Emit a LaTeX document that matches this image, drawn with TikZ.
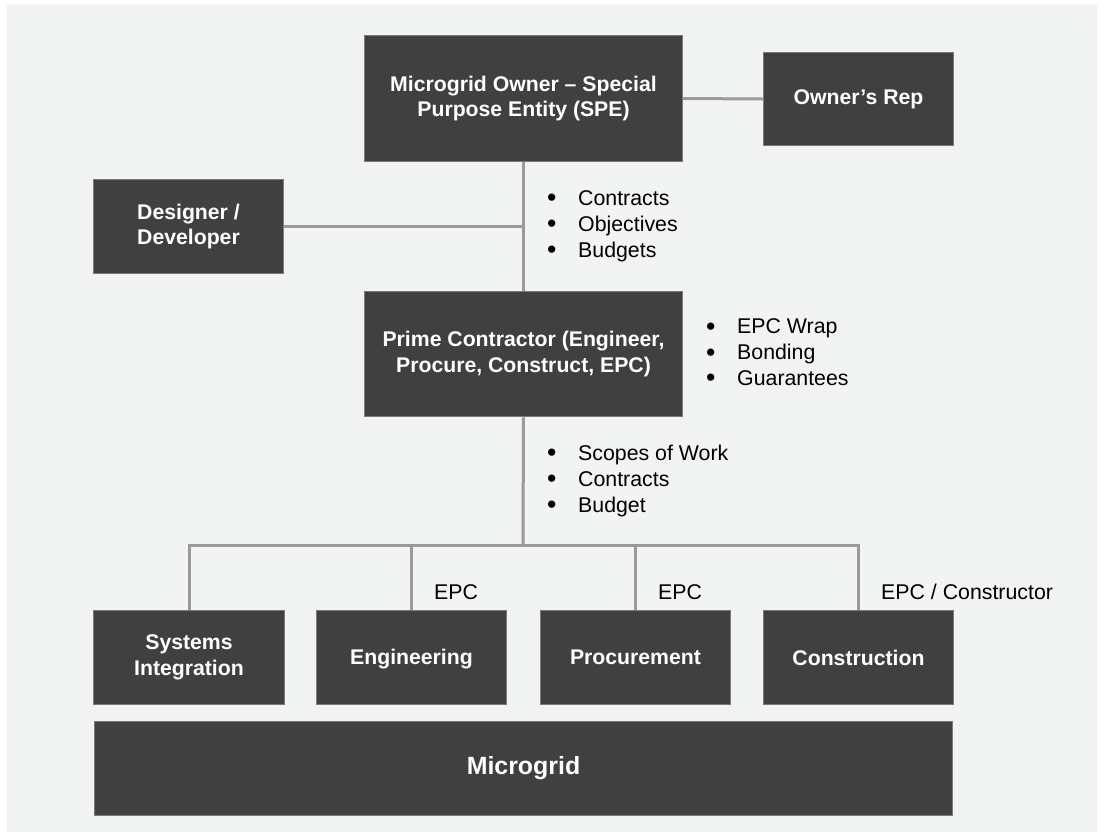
\documentclass[tikz,border=0pt]{standalone}
\usepackage{fontspec}
\setmainfont{Liberation Sans}
\definecolor{boxfill}{HTML}{404040}
\definecolor{boxline}{HTML}{7A7A7A}
\definecolor{linegray}{HTML}{9A9A9A}
\definecolor{panel}{HTML}{F2F3F3}
\begin{document}
\begin{tikzpicture}[x=1bp,y=-1bp,
  box/.style={fill=boxfill, draw=boxline, line width=1bp, text=white,
    font=\bfseries\fontsize{21.3}{26}\selectfont, align=center, inner sep=0pt},
  conn/.style={draw=linegray, line width=3bp},
  lbl/.style={font=\fontsize{21.4}{26}\selectfont, text=black, inner sep=0pt, align=left, anchor=west}]
\fill[white] (0,0) rectangle (1105,832);
\fill[panel] (7,4) rectangle (1097,832);
\useasboundingbox (0,0) rectangle (1105,832);
\newcommand{\bul}{\makebox[31bp][l]{\raisebox{-1.2bp}{\scalebox{1.25}{\textbullet}}}}
% boxes
\node[box, minimum width=319, minimum height=127] (owner) at (523.5,98.5) {Microgrid Owner -- Special\\Purpose Entity (SPE)};
\node[box, minimum width=191, minimum height=94] (rep) at (858.5,99) {Owner's Rep};
\node[box, minimum width=191, minimum height=95] (des) at (188.5,226.5) {Designer /\\Developer};
\node[box, minimum width=319, minimum height=126] (prime) at (523.5,354) {Prime Contractor (Engineer,\\Procure, Construct, EPC)};
\node[box, minimum width=192, minimum height=95] (sys) at (189,657.5) {Systems\\Integration};
\node[box, minimum width=191, minimum height=95] (eng) at (411.5,657.5) {\raisebox{-2bp}[\height][\depth]{Engineering}};
\node[box, minimum width=191, minimum height=95] (pro) at (635.5,657.5) {Procurement};
\node[box, minimum width=191, minimum height=95] (con) at (858.5,657.5) {Construction};
\node[box, minimum width=861, minimum height=95, font=\bfseries\fontsize{25}{30}\selectfont] (mg) at (523.5,768.5) {Microgrid};
% connectors
\coordinate (bus) at (523,545);
\draw[conn] (owner.south) -- (prime.north);
\draw[conn] (owner.east) -- (rep.west);
\draw[conn] (des.east) -- (des.east -| owner.south);
\draw[conn] (prime.south) -- (bus);
\draw[conn] (sys.north) -- (sys.north |- bus) -- (con.north |- bus) -- (con.north);
\draw[conn] (eng.north) -- (eng.north |- bus);
\draw[conn] (pro.north) -- (pro.north |- bus);
% labels
\node[lbl] (l1) at (547,226) {\bul Contracts\\\bul Objectives\\\bul Budgets};
\node[lbl] (l2) at (706,353) {\bul EPC Wrap\\\bul Bonding\\\bul Guarantees};
\node[lbl] (l3) at (547,481) {\bul Scopes of Work\\\bul Contracts\\\bul Budget};
\node[lbl] (e1) at (434,592) {EPC};
\node[lbl] (e2) at (658,592) {EPC};
\node[lbl] (e3) at (881,592) {EPC / Constructor};
\end{tikzpicture}
\end{document}
